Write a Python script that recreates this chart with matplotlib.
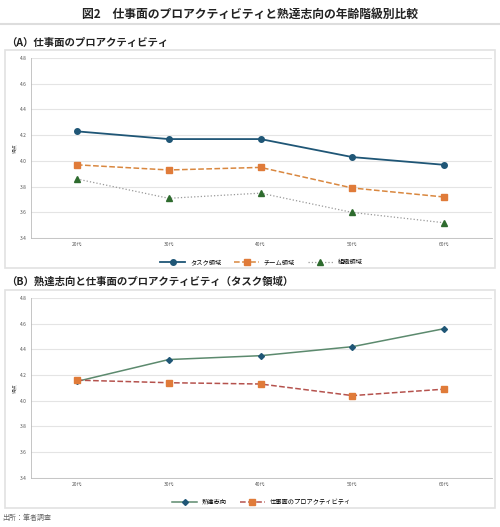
import matplotlib
matplotlib.use("Agg")
import matplotlib.pyplot as plt
from matplotlib.patches import Rectangle

plt.rcParams['font.family'] = ['Noto Sans CJK JP', 'DejaVu Sans']

ages = ['20代', '30代', '40代', '50代', '60代']
task = [4.23, 4.17, 4.17, 4.03, 3.97]
team = [3.97, 3.93, 3.95, 3.79, 3.72]
org = [3.86, 3.71, 3.75, 3.60, 3.52]
mastery = [4.15, 4.32, 4.35, 4.42, 4.56]
task_b = [4.16, 4.14, 4.13, 4.04, 4.09]
yticks = [3.4, 3.6, 3.8, 4.0, 4.2, 4.4, 4.6, 4.8]

fig = plt.figure(figsize=(5, 5.27), dpi=100)
fig.patch.set_facecolor('white')

for y0, h in [(0.491, 0.414), (0.036, 0.414)]:
    fig.add_artist(Rectangle((0.01, y0), 0.98, h, transform=fig.transFigure,
                             facecolor='white', edgecolor='#e2e2e2', lw=1.2, zorder=-10))
fig.add_artist(plt.Line2D([0.0, 1.0], [0.955, 0.955], transform=fig.transFigure,
                          color='#dddddd', lw=1.5, zorder=-10))

fig.text(0.5, 0.972, '図2　仕事面のプロアクティビティと熟達志向の年齢階級別比較',
         ha='center', va='center', fontsize=8.5, fontweight='bold', color='#222222')
fig.text(0.012, 0.918, '（A）仕事面のプロアクティビティ', ha='left', va='center',
         fontsize=7.5, fontweight='bold', color='#222222')
fig.text(0.012, 0.465, '（B）熟達志向と仕事面のプロアクティビティ（タスク領域）', ha='left', va='center',
         fontsize=7.5, fontweight='bold', color='#222222')
fig.text(0.005, 0.017, '出所：筆者調査', ha='left', va='center', fontsize=5, color='#666666')

def style(ax):
    ax.set_facecolor('none')
    ax.set_ylim(3.4, 4.8)
    ax.set_yticks(yticks)
    ax.set_yticklabels([f'{v:.1f}' for v in yticks], fontsize=3.5, color='#555555')
    ax.set_xlim(-0.5, 4.52)
    ax.set_xticks(range(len(ages)))
    ax.set_xticklabels(ages, fontsize=3.5, color='#555555')
    ax.grid(axis='y', color='#e4e4e4', lw=0.8)
    ax.set_axisbelow(True)
    for s in ['top', 'right']:
        ax.spines[s].set_visible(False)
    for s in ['left', 'bottom']:
        ax.spines[s].set_color('#bbbbbb')
        ax.spines[s].set_linewidth(0.6)
    ax.tick_params(length=0, pad=3)
    ax.set_ylabel('得点', fontsize=3.5, color='#555555', labelpad=2)

x = range(len(ages))
axA = fig.add_axes([0.062, 0.548, 0.922, 0.342])
style(axA)
axA.plot(x, task, color='#1f5676', lw=1.3, marker='o', ms=4, label='タスク領域')
axA.plot(x, team, color='#d9873f', lw=1.1, ls='--', marker='s', ms=4,
         mfc='#e07b39', mec='#e07b39', label='チーム領域')
axA.plot(x, org, color='#999999', lw=0.9, ls=':', marker='^', ms=4,
         mfc='#2e6b2e', mec='#2e6b2e', label='組織領域')
axA.legend(loc='upper center', bbox_to_anchor=(0.5, -0.08), ncol=3, frameon=False,
           fontsize=4.5, handlelength=4, columnspacing=2)

axB = fig.add_axes([0.062, 0.093, 0.922, 0.342])
style(axB)
axB.plot(x, mastery, color='#5c8a6e', lw=1.1, marker='D', ms=3,
         mfc='#1f5676', mec='#1f5676', label='熟達志向')
axB.plot(x, task_b, color='#b5524d', lw=1.1, ls='--', marker='s', ms=4,
         mfc='#e07b39', mec='#e07b39', label='仕事面のプロアクティビティ')
axB.legend(loc='upper center', bbox_to_anchor=(0.5, -0.08), ncol=2, frameon=False,
           fontsize=4.5, handlelength=4, columnspacing=2)

fig.savefig('out.png', dpi=100, facecolor='white')
